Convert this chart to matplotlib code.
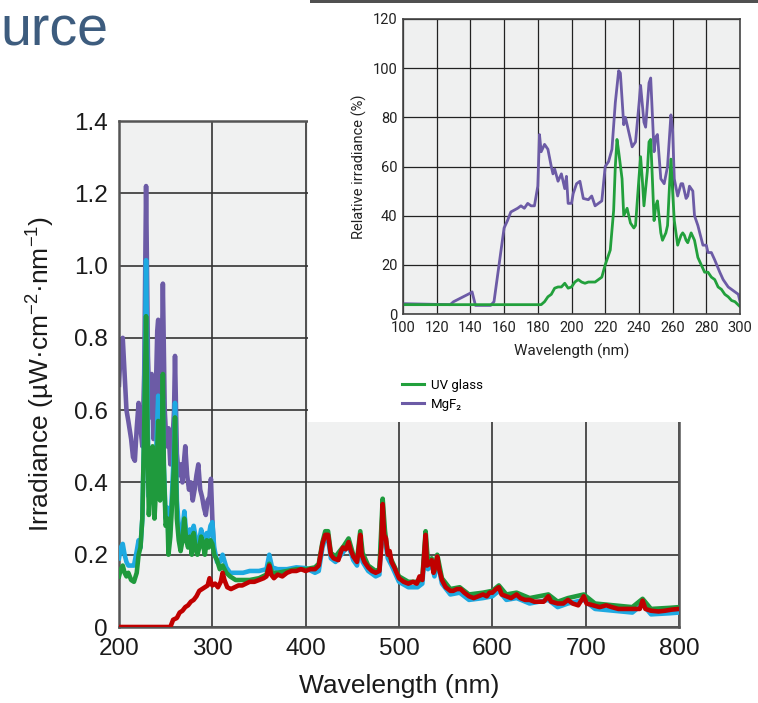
"""Lamp spectrum slide: irradiance 200-800 nm with a VUV inset."""
import matplotlib
matplotlib.use("Agg")
import matplotlib.pyplot as plt
from matplotlib.lines import Line2D
from matplotlib.patches import Rectangle

# ---- main chart data (uW cm^-2 nm^-1) ----
mgf2_wl = [200, 202, 204, 206, 208, 210, 213, 215, 217, 219, 221, 223, 225, 227, 229,
           231, 233, 235, 237, 239, 241, 242, 243, 245, 247, 249, 251, 253, 255, 257,
           259, 260, 262, 264, 266, 268, 270, 271, 273, 275, 277, 279, 281, 283, 285,
           287, 289, 291, 293, 295, 297, 298.5, 300, 302]
mgf2_irr = [0.67, 0.78, 0.80, 0.70, 0.60, 0.57, 0.52, 0.47, 0.46, 0.55, 0.62, 0.55, 0.50,
            0.70, 1.22, 0.75, 0.58, 0.70, 0.52, 0.60, 0.82, 0.85, 0.62, 0.55, 0.95, 0.60,
            0.50, 0.55, 0.45, 0.50, 0.60, 0.75, 0.48, 0.42, 0.45, 0.40, 0.47, 0.50, 0.42,
            0.38, 0.40, 0.35, 0.38, 0.42, 0.45, 0.38, 0.36, 0.33, 0.31, 0.35, 0.36, 0.41,
            0.30, 0.20]

uv_wl = [200, 202, 204, 206, 208, 210, 213, 216, 219, 221, 223, 225, 227, 229, 231, 232,
         234, 236, 238, 240, 242, 244, 246, 247, 248, 250, 252, 253, 255, 257, 259, 260,
         262, 264, 266, 268, 270, 272, 274, 276, 278, 280, 282, 284, 286, 288, 290, 292,
         294, 296, 298,
         300, 302, 305, 308, 311, 315, 319, 325, 333, 340, 350, 358, 361, 364, 370, 380,
         390, 400, 410, 414, 418, 421, 424, 427, 432, 438, 441, 446, 451, 455, 458.5, 461,
         467, 475, 479, 482.5, 485, 488, 492, 500, 510, 520, 525, 528.5, 531, 535, 538,
         541, 546, 555, 565, 575, 590, 600, 607, 615, 626, 640, 660, 670, 681, 698, 710,
         730, 750, 761, 770, 790, 800]
blue_irr = [0.19, 0.22, 0.23, 0.20, 0.18, 0.17, 0.17, 0.17, 0.21, 0.24, 0.22, 0.30, 0.55,
            1.015, 0.55, 0.36, 0.45, 0.48, 0.40, 0.50, 0.64, 0.40, 0.56, 0.63, 0.45, 0.30,
            0.33, 0.24, 0.28, 0.38, 0.50, 0.62, 0.35, 0.28, 0.25, 0.27, 0.32, 0.26, 0.24,
            0.27, 0.22, 0.28, 0.25, 0.22, 0.24, 0.27, 0.25, 0.22, 0.26, 0.25, 0.28,
            0.29, 0.22, 0.18, 0.18, 0.20, 0.165, 0.15, 0.15, 0.15, 0.155, 0.155, 0.16, 0.20,
            0.165, 0.16, 0.16, 0.165, 0.163, 0.15, 0.155, 0.22, 0.245, 0.245, 0.19, 0.18,
            0.20, 0.21, 0.225, 0.185, 0.17, 0.24, 0.18, 0.155, 0.14, 0.145, 0.32, 0.24, 0.19,
            0.17, 0.125, 0.11, 0.11, 0.12, 0.24, 0.16, 0.175, 0.14, 0.185, 0.12, 0.09, 0.095,
            0.075, 0.08, 0.085, 0.10, 0.075, 0.08, 0.065, 0.075, 0.055, 0.065, 0.075, 0.05,
            0.045, 0.04, 0.063, 0.035, 0.038, 0.04]
green_irr = [0.14, 0.16, 0.17, 0.15, 0.14, 0.15, 0.13, 0.125, 0.15, 0.20, 0.22, 0.30, 0.55,
             0.86, 0.45, 0.31, 0.40, 0.50, 0.30, 0.40, 0.57, 0.35, 0.52, 0.70, 0.45, 0.28,
             0.30, 0.20, 0.25, 0.35, 0.45, 0.58, 0.30, 0.24, 0.21, 0.24, 0.30, 0.24, 0.22,
             0.25, 0.20, 0.26, 0.22, 0.20, 0.22, 0.25, 0.23, 0.20, 0.24, 0.22, 0.24,
             0.23, 0.20, 0.185, 0.16, 0.17, 0.15, 0.14, 0.13, 0.13, 0.13, 0.135, 0.145, 0.175,
             0.15, 0.15, 0.155, 0.16, 0.16, 0.165, 0.175, 0.235, 0.265, 0.265, 0.205, 0.195,
             0.215, 0.225, 0.245, 0.20, 0.185, 0.265, 0.205, 0.17, 0.155, 0.16, 0.355, 0.265,
             0.205, 0.185, 0.14, 0.125, 0.125, 0.135, 0.265, 0.18, 0.19, 0.155, 0.20, 0.135,
             0.105, 0.11, 0.09, 0.095, 0.10, 0.115, 0.09, 0.095, 0.08, 0.09, 0.07, 0.08, 0.09,
             0.065, 0.06, 0.055, 0.078, 0.05, 0.053, 0.055]

red_wl = [200, 255, 258, 262, 265, 268, 271, 274, 277, 280, 283, 286, 289, 292, 295, 297,
          300, 303, 306, 309, 311, 313, 316, 320, 324, 328, 332, 336, 340, 345, 350, 355,
          358, 361, 363, 366, 370, 375, 380, 385, 390, 395, 400, 405, 410, 414, 418, 421,
          424, 427, 430, 435, 438, 440, 443, 446, 448, 451, 455, 457, 458.5, 460, 463, 467,
          471, 475, 479, 481, 482.5, 484, 486, 488, 490, 492, 495, 500, 505, 510, 515, 519,
          522, 525, 527, 528.5, 530, 533, 535, 537, 539, 541, 543, 546, 550, 555, 558, 562,
          566, 570, 575, 580, 585, 590, 594, 597, 600, 604, 607, 610, 615, 620, 626, 630,
          635, 640, 645, 650, 655, 660, 663, 670, 676, 681, 686, 692, 698, 701, 708, 715,
          722, 728, 735, 742, 750, 758, 761, 764, 770, 778, 785, 792, 800]
red_irr = [0, 0, 0.02, 0.025, 0.04, 0.045, 0.055, 0.06, 0.07, 0.075, 0.085, 0.10, 0.105,
           0.11, 0.115, 0.135, 0.115, 0.12, 0.11, 0.125, 0.15, 0.13, 0.11, 0.105, 0.11,
           0.115, 0.115, 0.12, 0.125, 0.125, 0.13, 0.135, 0.14, 0.17, 0.145, 0.135, 0.145,
           0.14, 0.15, 0.155, 0.155, 0.16, 0.155, 0.16, 0.16, 0.17, 0.23, 0.255, 0.255, 0.20,
           0.19, 0.185, 0.21, 0.22, 0.215, 0.235, 0.215, 0.195, 0.18, 0.22, 0.255, 0.20,
           0.18, 0.165, 0.155, 0.15, 0.155, 0.22, 0.34, 0.255, 0.245, 0.20, 0.21, 0.18,
           0.165, 0.135, 0.125, 0.12, 0.125, 0.12, 0.14, 0.13, 0.20, 0.255, 0.17, 0.175,
           0.185, 0.15, 0.17, 0.195, 0.16, 0.13, 0.11, 0.10, 0.10, 0.105, 0.105, 0.095,
           0.085, 0.08, 0.085, 0.09, 0.085, 0.095, 0.095, 0.105, 0.11, 0.09, 0.085, 0.08,
           0.09, 0.08, 0.075, 0.075, 0.07, 0.07, 0.07, 0.085, 0.07, 0.065, 0.065, 0.075,
           0.065, 0.06, 0.085, 0.065, 0.06, 0.055, 0.06, 0.055, 0.05, 0.05, 0.05, 0.05,
           0.073, 0.05, 0.045, 0.043, 0.045, 0.048, 0.05]

# ---- inset data (relative irradiance, %) ----
in_mgf2_wl = [100, 128, 130, 140, 141, 143, 152, 154, 157, 160, 162, 164, 168, 170, 172,
              174, 176, 178, 180, 181, 182, 184, 186, 188, 189, 190, 192, 194, 196, 197,
              198, 200, 201, 203, 205, 207, 210, 212, 214, 216, 218, 220, 222, 224, 226,
              228, 229, 231, 232, 234, 236, 238, 240, 241, 243, 244, 246, 247, 249, 250,
              251, 253, 255, 257, 259, 260, 261, 263, 265, 266, 268, 269, 270, 272, 273,
              275, 278, 280, 281, 283, 285, 288, 290, 293, 296, 299, 300]
in_mgf2 = [4.2, 3.8, 5, 8.5, 9, 3.5, 3.5, 5, 20, 35, 38, 41.5, 43, 44, 43, 45, 44, 44, 52,
           73, 66, 69, 67, 60, 57, 59, 54, 57, 51, 56, 45, 45, 49, 53, 54, 47, 46.5, 48, 44,
           45, 46, 60, 62, 67, 86, 99, 98, 77, 80, 74, 68, 70, 85, 93, 78, 76, 94, 96, 66,
           72, 73, 55, 53, 60, 81, 75, 55, 48, 53, 53, 47, 48, 52, 50, 40, 36, 28, 28, 25,
           25, 22, 17, 14, 11, 9.5, 8, 5]
in_uv_wl = [100, 182, 184, 186, 188, 190, 192, 194, 196, 198, 200, 202, 204, 206, 208, 210,
            212, 214, 216, 218, 220, 222, 223, 225, 226, 227, 228, 230, 231, 233, 235, 237,
            238, 240, 241, 242, 243, 245, 246, 247, 248, 249, 250, 251, 253, 254, 256, 257,
            258, 259, 260, 261, 263, 265, 266, 267, 268, 269, 271, 273, 275, 277, 279, 281,
            283, 285, 287, 289, 291, 293, 295, 297, 300]
in_uv = [3.8, 3.8, 5, 7, 8, 10.5, 11, 11, 12.5, 10.5, 11, 13, 14, 13, 12.5, 13, 13, 13, 14,
         15, 20, 24, 26, 42, 60, 71, 66, 55, 40, 43, 37, 35, 36, 55, 64, 55, 44, 58, 70, 71,
         55, 38, 44, 46, 33, 30, 33, 36, 50, 63, 50, 38, 28, 32, 33, 32, 30, 29, 33, 30, 23,
         20, 17, 17, 15, 14, 11, 10, 8, 7, 5.5, 5, 3]

PURPLE = "#6c5ba6"
BLUE = "#1ea9e1"
GREEN = "#1f9a3d"
RED = "#c00000"
W, H = 758, 703

plt.rcParams["font.family"] = ["Liberation Sans", "DejaVu Sans"]
plt.rcParams["mathtext.fontset"] = "custom"
plt.rcParams["mathtext.rm"] = "Liberation Sans"
fig = plt.figure(figsize=(W / 100, H / 100), dpi=100)

# main chart
ax = fig.add_axes([119 / W, 1 - 627 / H, 560 / W, 506 / H])
ax.set_facecolor("#f0f1f1")
ax.plot(mgf2_wl, mgf2_irr, color=PURPLE, lw=3.3, zorder=2, solid_joinstyle="round")
ax.plot(uv_wl, blue_irr, color=BLUE, lw=3.3, zorder=3, solid_joinstyle="round")
ax.plot(uv_wl, green_irr, color=GREEN, lw=3.3, zorder=4, solid_joinstyle="round")
ax.plot(red_wl, red_irr, color=RED, lw=3.3, zorder=5, solid_joinstyle="round")
ax.set_xlim(200, 800)
ax.set_ylim(0, 1.4)
ax.set_xticks(range(200, 801, 100))
ax.set_yticks([0, 0.2, 0.4, 0.6, 0.8, 1.0, 1.2, 1.4])
ax.set_yticklabels(["0", "0.2", "0.4", "0.6", "0.8", "1.0", "1.2", "1.4"])
ax.tick_params(length=0, labelsize=17.5, colors="#1a1a1a")
ax.tick_params(axis="x", pad=8)
ax.tick_params(axis="y", pad=8)
ax.grid(True, color="#333333", lw=1.4, alpha=0.85)
ax.set_axisbelow(True)
for s in ax.spines.values():
    s.set_color("#555555")
    s.set_linewidth(1.8)
ax.set_xlabel("Wavelength (nm)", fontsize=19, color="#1a1a1a", labelpad=10)
ax.set_ylabel(r"Irradiance (µW·cm$^{\mathregular{-2}}$·nm$^{\mathregular{-1}}$)",
              fontsize=19, color="#1a1a1a", labelpad=13)

# white panel covering the upper right, with the slide header bar
fig.add_artist(Rectangle((308 / W, 1 - 422 / H), 1 - 308 / W, 422 / H,
                         transform=fig.transFigure, facecolor="white",
                         edgecolor="none", zorder=1))
fig.add_artist(Rectangle((310 / W, 1 - 3 / H), 1 - 310 / W, 3 / H,
                         transform=fig.transFigure, facecolor="#505050",
                         edgecolor="none", zorder=1.5))

fig.text(0.001, 1 - 45 / H, "urce", fontsize=40, color="#3d5c7e", ha="left",
         va="baseline")

# inset chart
inset_font = ["Roboto", "DejaVu Sans"]
axi = fig.add_axes([403 / W, 1 - 314 / H, 337 / W, 295 / H])
axi.set_zorder(2)
axi.set_facecolor("#eff0f0")
axi.plot(in_mgf2_wl, in_mgf2, color=PURPLE, lw=2)
axi.plot(in_uv_wl, in_uv, color="#22a03c", lw=2)
axi.set_xlim(100, 300)
axi.set_ylim(0, 120)
axi.set_xticks(range(100, 301, 20))
axi.set_yticks(range(0, 121, 20))
axi.tick_params(length=0, labelsize=10.5, colors="#222222")
axi.tick_params(axis="x", pad=5)
axi.tick_params(axis="y", pad=4)
for lab in axi.get_xticklabels() + axi.get_yticklabels():
    lab.set_family(inset_font)
axi.grid(True, color="#222222", lw=0.9)
axi.set_axisbelow(True)
for s in axi.spines.values():
    s.set_color("#444444")
    s.set_linewidth(1.2)
axi.set_xlabel("Wavelength (nm)", fontsize=11, family=inset_font, color="#222222",
               labelpad=6)
axi.set_ylabel("Relative irradiance (%)", fontsize=10.5, family=inset_font,
               color="#222222", labelpad=4)

handles = [Line2D([], [], color="#22a03c", lw=2.2), Line2D([], [], color=PURPLE, lw=2.2)]
leg = fig.legend(handles, ["UV glass", "MgF₂"], loc="upper left",
                 bbox_to_anchor=(402 / W, 1 - 379 / H), frameon=False,
                 prop={"family": inset_font, "size": 9.5}, handlelength=1.7,
                 labelspacing=0.45, handletextpad=0.5, borderpad=0, borderaxespad=0)
leg.set_zorder(3)

fig.savefig("out.png", dpi=100)
